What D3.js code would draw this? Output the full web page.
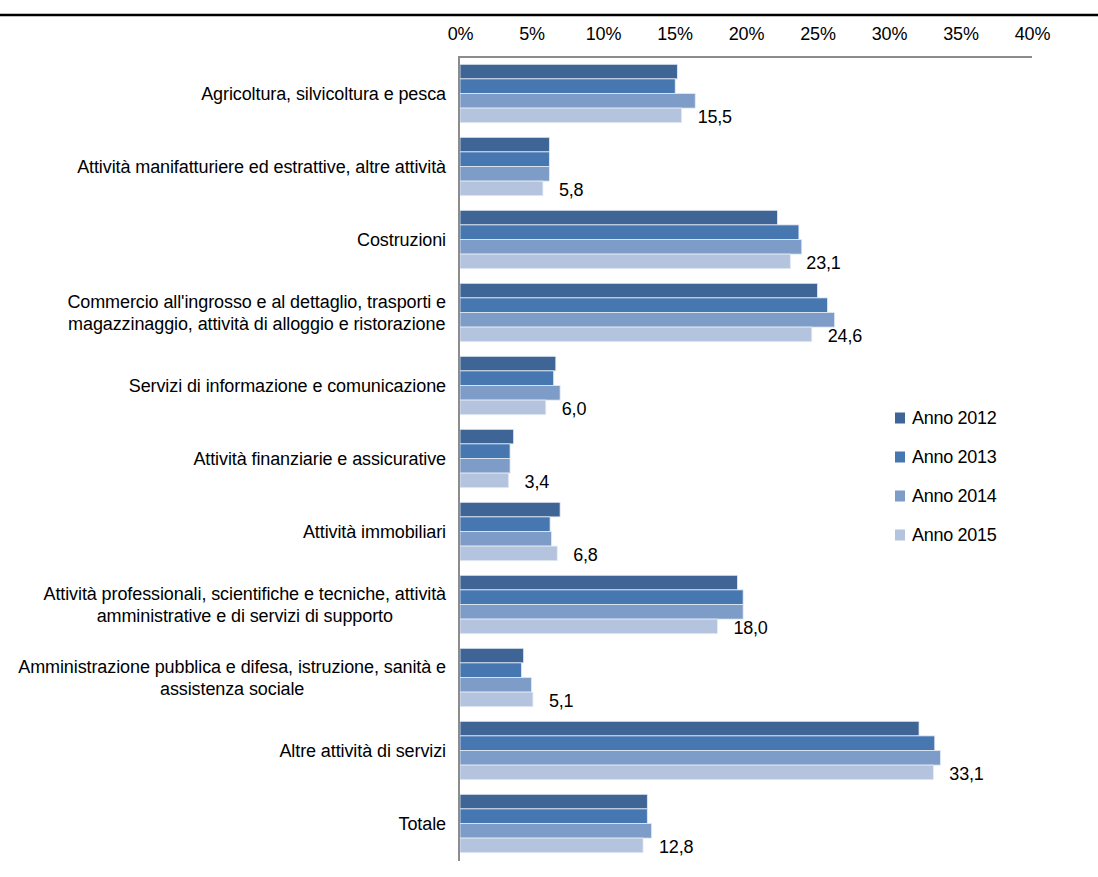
<!DOCTYPE html>
<html>
<head>
<meta charset="utf-8">
<script src="https://cdn.jsdelivr.net/npm/d3@7"></script>
<style>
  html, body { margin: 0; padding: 0; background: #fff; }
  svg { display: block; font-family: Arial, "Liberation Sans", sans-serif; }
</style>
</head>
<body>
<svg id="chart" width="1098" height="877"></svg>
<script>
const categories = [
  ["Agricoltura, silvicoltura e pesca"],
  ["Attività manifatturiere ed estrattive, altre attività"],
  ["Costruzioni"],
  ["Commercio all'ingrosso e al dettaglio, trasporti e", "magazzinaggio, attività di alloggio e ristorazione"],
  ["Servizi di informazione e comunicazione"],
  ["Attività finanziarie e assicurative"],
  ["Attività immobiliari"],
  ["Attività professionali, scientifiche e tecniche, attività", "amministrative e di servizi di supporto"],
  ["Amministrazione pubblica e difesa, istruzione, sanità e", "assistenza sociale"],
  ["Altre attività di servizi"],
  ["Totale"]
];
const seriesNames = ["Anno 2012", "Anno 2013", "Anno 2014", "Anno 2015"];
const v2012 = [15.2, 6.25, 22.2, 25.0, 6.7, 3.75, 7.0, 19.4, 4.45, 32.1, 13.1];
const v2013 = [15.05, 6.25, 23.7, 25.7, 6.55, 3.5, 6.3, 19.8, 4.3, 33.2, 13.1];
const v2014 = [16.45, 6.25, 23.9, 26.2, 7.0, 3.5, 6.4, 19.8, 5.0, 33.6, 13.4];
const v2015 = [15.5, 5.8, 23.1, 24.6, 6.0, 3.4, 6.8, 18.0, 5.1, 33.1, 12.8];
const tickValues = [0, 5, 10, 15, 20, 25, 30, 35, 40];
const colors = ["#3e6595", "#4777b0", "#7e9cc8", "#b4c4df"];

const allSeries = [v2012, v2013, v2014, v2015];
const svg = d3.select("#chart");

// top black rule
svg.append("line")
  .attr("x1", 0).attr("x2", 1098).attr("y1", 15).attr("y2", 15)
  .attr("stroke", "#000").attr("stroke-width", 2.5);

const x = d3.scaleLinear().domain([0, 40]).range([460, 1032]);
const y = d3.scaleBand().domain(d3.range(categories.length)).range([57, 860])
  .paddingInner(0.2).paddingOuter(0.1);
const ySub = d3.scaleBand().domain(d3.range(seriesNames.length)).range([0, y.bandwidth()]);

// top axis tick labels
const axis = d3.axisTop(x).tickValues(tickValues).tickFormat(d => d + "%").tickSize(0).tickPadding(0);
const gAxis = svg.append("g").attr("transform", "translate(0,40)").call(axis);
gAxis.select(".domain").remove();
gAxis.selectAll("text").attr("font-size", 18).attr("fill", "#000")
  .attr("letter-spacing", "-0.2px")
  .attr("font-family", "Arial, 'Liberation Sans', sans-serif");

// bars
const groups = svg.append("g").selectAll("g")
  .data(categories.map((c, i) => i))
  .join("g")
  .attr("transform", i => `translate(0,${y(i)})`);

groups.selectAll("rect")
  .data(i => allSeries.map((s, k) => ({ k, v: s[i] })))
  .join("rect")
  .attr("x", x(0))
  .attr("y", d => ySub(d.k))
  .attr("width", d => x(d.v) - x(0))
  .attr("height", ySub.bandwidth())
  .attr("fill", d => colors[d.k])
  .attr("stroke", "#e4eaf3")
  .attr("stroke-width", 0.8);

// value labels for 2015
groups.append("text")
  .attr("x", i => x(v2015[i]) + 16)
  .attr("y", ySub(3) + ySub.bandwidth() / 2 + 2)
  .attr("dominant-baseline", "central")
  .attr("font-size", 18)
  .attr("letter-spacing", "-0.2px")
  .attr("fill", "#000")
  .text(i => d3.format(".1f")(v2015[i]).replace(".", ","));

// axis lines
svg.append("line")
  .attr("x1", x(0) - 1).attr("x2", x(40)).attr("y1", 57).attr("y2", 57)
  .attr("stroke", "#8c8c8c").attr("stroke-width", 2);
svg.append("line")
  .attr("x1", x(0) - 1).attr("x2", x(0) - 1).attr("y1", 56).attr("y2", 861)
  .attr("stroke", "#8c8c8c").attr("stroke-width", 2);

// category labels
const rightEdge = 446;
const lineH = 22;
const labels = svg.append("g");
categories.forEach((lines, i) => {
  const cy = y(i) + y.bandwidth() / 2;
  const t = labels.append("text")
    .attr("font-size", 18).attr("fill", "#000")
    .attr("letter-spacing", "-0.1px")
    .attr("text-anchor", "middle");
  lines.forEach((ln, j) => {
    t.append("tspan")
      .attr("y", cy + (j - (lines.length - 1) / 2) * lineH)
      .attr("dominant-baseline", "central")
      .text(ln);
  });
  let maxW = 0;
  t.selectAll("tspan").each(function () { maxW = Math.max(maxW, this.getComputedTextLength()); });
  t.selectAll("tspan").attr("x", rightEdge - maxW / 2);
});

// legend
const legend = svg.append("g");
seriesNames.forEach((name, k) => {
  const ly = 418 + k * 39;
  legend.append("rect").attr("x", 895).attr("y", ly - 5.5).attr("width", 10).attr("height", 11)
    .attr("fill", colors[k]);
  legend.append("text").attr("x", 912).attr("y", ly).attr("dominant-baseline", "central")
    .attr("font-size", 18).attr("letter-spacing", "-0.3px")
    .attr("fill", "#000").text(name);
});
</script>
</body>
</html>
